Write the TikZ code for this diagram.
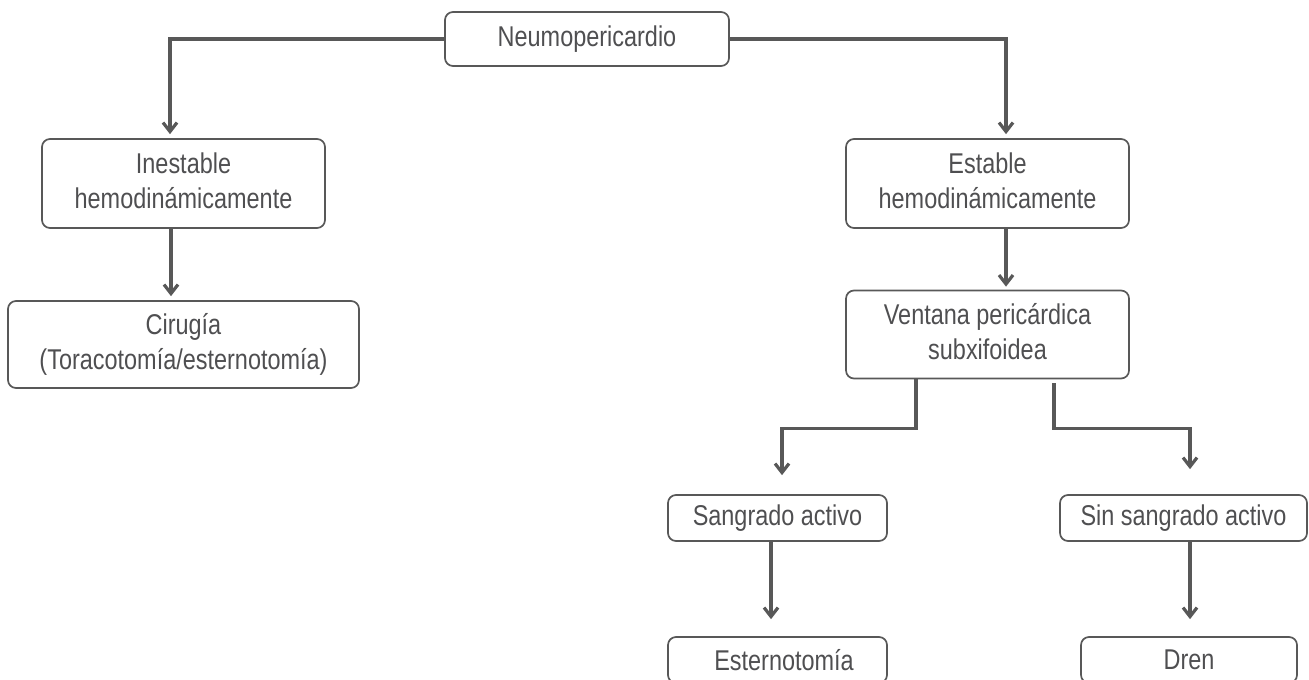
\documentclass[tikz,border=0pt]{standalone}
\usepackage{fontspec}
\setmainfont[FakeStretch=0.82]{Liberation Sans}
\usetikzlibrary{arrows.meta,calc}
\definecolor{inkgray}{HTML}{4F4F51}
\definecolor{edgegray}{HTML}{585858}
\begin{document}
\begin{tikzpicture}[x=0.5pt,y=-0.5pt,
  box/.style={draw=edgegray, line width=0.85pt, rounded corners=4pt,
    align=center, inner sep=0pt, text=inkgray,
    font=\fontsize{14.3pt}{17.5pt}\selectfont},
  conn/.style={draw=edgegray, line width=1.6pt,
    -{Straight Barb[length=4.5pt,width=7pt]}}]
\useasboundingbox (0,0) rectangle (1309,679);
\clip (0,0) rectangle (1309,679);

% boxes
\node[box, minimum width=142pt, minimum height=27pt] (neu) at (587,39) {Neumopericardio};
\node[box, minimum width=141.5pt, minimum height=44.5pt] (ines) at (183.5,183.5) {Inestable\\hemodinámicamente\rule[-3pt]{0pt}{1pt}};
\node[box, minimum width=175.5pt, minimum height=43.5pt] (cir) at (183.5,344.5) {Cirugía\\(Toracotomía/esternotomía)};
\node[box, minimum width=141.5pt, minimum height=44.5pt] (est) at (987.5,183.5) {Estable\\hemodinámicamente\rule[-3pt]{0pt}{1pt}};
\node[box, minimum width=141.5pt, minimum height=44pt] (ven) at (987.5,334.5) {Ventana pericárdica\\subxifoidea\rule[-3pt]{0pt}{1pt}};
\node[box, minimum width=109.5pt, minimum height=23pt] (sang) at (777.5,518) {Sangrado activo};
\node[box, minimum width=123.5pt, minimum height=23pt] (sin) at (1183.5,518) {Sin sangrado activo};
\node[box, minimum width=109.5pt, minimum height=23pt] (ester) at (777.5,660) {\hspace{6.5pt}Esternotomía};
\node[box, minimum width=108pt, minimum height=23pt] (dren) at (1189,660) {Dren};

% connectors
\draw[conn] (neu.west) -| ($(ines.north)+(-13.5,-4)$);
\draw[conn] (neu.east) -| ($(est.north)+(18.5,-4)$);
\draw[conn] ($(ines.south)+(-12.5,0)$) -- ($(cir.north)+(-12.5,-4)$);
\draw[conn] ($(est.south)+(18.5,0)$) -- ($(ven.north)+(18.5,-3)$);
\draw[conn] ($(ven.south)+(-71.5,0)$) -- ++(0,49) -| ($(sang.north)+(4.5,-19)$);
\draw[conn] ($(ven.south)+(66.5,4)$) -- ++(0,45) -| ($(sin.north)+(6.5,-25)$);
\draw[conn] ($(sang.south)+(-6.5,0)$) -- ($(ester.north)+(-6.5,-17)$);
\draw[conn] ($(sin.south)+(6.5,0)$) -- ($(dren.north)+(1,-17)$);
\end{tikzpicture}
\end{document}
